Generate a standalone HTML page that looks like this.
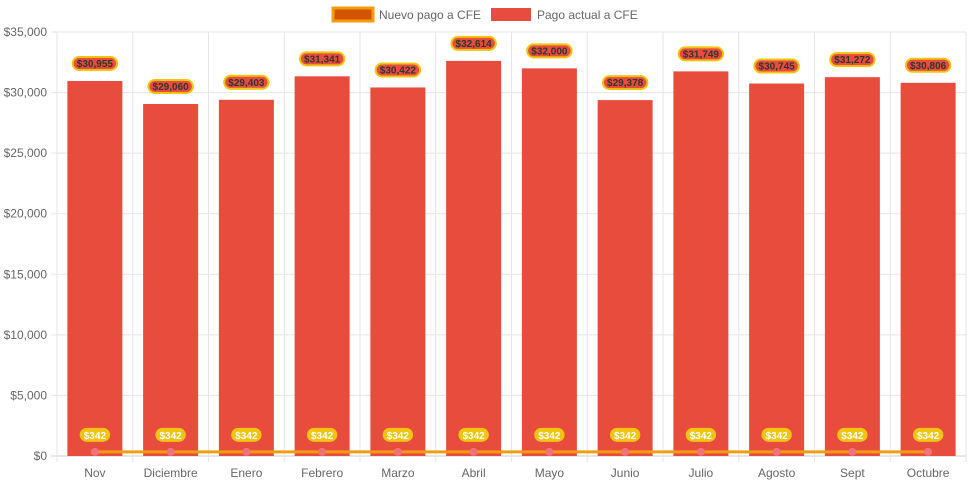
<!DOCTYPE html>
<html><head><meta charset="utf-8"><style>
body{margin:0;background:#fff;font-family:"Liberation Sans",Arial,sans-serif}
svg{display:block}
</style></head><body>
<svg id="c" width="971" height="485" xmlns="http://www.w3.org/2000/svg">
<g>
 <rect x="333" y="8" width="40" height="13" fill="#d35400" stroke="#f39c12" stroke-width="3"/>
 <text x="379" y="19" font-size="12" fill="#666">Nuevo pago a CFE</text>
 <rect x="491" y="8" width="40" height="13" fill="#e74c3c"/>
 <text x="537" y="19" font-size="12" fill="#666">Pago actual a CFE</text>
</g>
<g id="grid"></g><g id="bars"></g><g id="line"></g><g id="labels"></g>
</svg>
<script>
const categories=["Nov","Diciembre","Enero","Febrero","Marzo","Abril","Mayo","Junio","Julio","Agosto","Sept","Octubre"];
const actual=[30955,29060,29403,31341,30422,32614,32000,29378,31749,30745,31272,30806];
const nuevo=[342,342,342,342,342,342,342,342,342,342,342,342];
const yTicks=[0,5000,10000,15000,20000,25000,30000,35000];
const L=57,R=966,T=32,B=456,MAX=35000;
const NS="http://www.w3.org/2000/svg";
const bw=(R-L)/categories.length;
const y=v=>B-(v/MAX)*(B-T);
const xc=i=>L+bw*(i+0.5);
function mk(tag,attrs,parent,txt){const e=document.createElementNS(NS,tag);for(const k in attrs)e.setAttribute(k,attrs[k]);if(txt!=null)e.textContent=txt;document.getElementById(parent).appendChild(e);return e;}
const fmt=v=>"$"+v.toLocaleString("en-US");
yTicks.forEach(t=>{
 const l=mk("line",{x1:L-6,x2:R,y1:y(t),y2:y(t),stroke:t===0?"#ccc":"#e5e5e5"},"grid");
 
 
 const tx=mk("text",{x:L-10,y:y(t)+4,"font-size":12,fill:"#666","text-anchor":"end"},"grid",fmt(t));
 
 
});
for(let i=0;i<=categories.length;i++){
 const l=mk("line",{x1:L+bw*i,x2:L+bw*i,y1:T,y2:B+6,stroke:"#e5e5e5"},"grid");
 
 
}
categories.forEach((c,i)=>{
 const tx=mk("text",{x:xc(i),y:477,"font-size":12,fill:"#666","text-anchor":"middle"},"grid",c);
 
 
 const bar=mk("rect",{x:xc(i)-27.5,y:y(actual[i]),width:55,height:B-y(actual[i]),fill:"#e74c3c"},"bars");
 
 
 const lbl=fmt(actual[i]);const w=lbl.length*5.2+8;const cy=y(actual[i])-17.5;
 const pill=mk("rect",{x:xc(i)-w/2,y:cy-6.5,width:w,height:13,rx:6.5,fill:"#e74c3c",stroke:"#f1c40f","stroke-width":2},"labels");
 
 
 const t=mk("text",{x:xc(i),y:cy+3.5,"font-size":10,"font-weight":"bold",fill:"#333","text-anchor":"middle"},"labels",lbl);
 
 
 const nl=fmt(nuevo[i]);const nw=nl.length*5.6+8;const ny=y(nuevo[i])-17;
 const p2=mk("rect",{x:xc(i)-nw/2,y:ny-7,width:nw,height:14,rx:7,fill:"#f1c40f"},"labels");
 
 
 const t2=mk("text",{x:xc(i),y:ny+4,"font-size":10,"font-weight":"bold",fill:"#fff","text-anchor":"middle"},"labels",nl);
 
 
});
const pl=mk("polyline",{points:nuevo.map((v,i)=>xc(i)+","+y(v)).join(" "),fill:"none",stroke:"#f39c12","stroke-width":3},"line");


nuevo.forEach((v,i)=>{
 const p=mk("circle",{cx:xc(i),cy:y(v),r:4,fill:"#f1737a"},"line");
 
 
});
</script>
</body></html>
